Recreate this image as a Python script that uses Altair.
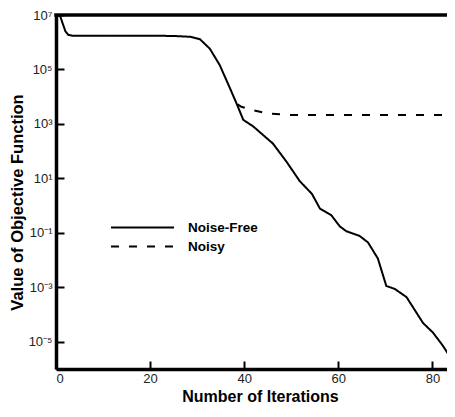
import altair as alt
import pandas as pd

# ---- data ----
nf_iter = [0.8, 1.5, 2.0, 2.6, 3.5, 10, 20, 25, 28.5, 30.6, 32.7, 34.8, 36.9, 38.4, 39.8,
           41.9, 46.1, 49.0, 51.8, 54.4, 56.1, 58.5, 60.3, 61.7, 64.5, 66.3, 68.4, 70.2,
           72.0, 74.5, 78.0, 80.1, 82.2, 84.4]
nf_log = [7.0, 6.65, 6.40, 6.27, 6.24, 6.24, 6.24, 6.23, 6.20, 6.11, 5.76, 5.16, 4.34, 3.74, 3.15,
          2.91, 2.28, 1.61, 0.90, 0.43, -0.11, -0.35, -0.76, -0.94, -1.11, -1.35, -1.94, -2.95,
          -3.06, -3.36, -4.31, -4.66, -5.14, -5.73]

noisy_iter = [38.6, 39.4, 41.5, 44.7, 49.7, 55, 65, 75, 84.7]
noisy_log = [3.72, 3.63, 3.52, 3.39, 3.33, 3.33, 3.33, 3.33, 3.33]

series_names = ["Noise-Free", "Noisy"]
x_tick_values = [0, 20, 40, 60, 80]
y_tick_exps = [-5, -3, -1, 1, 3, 5, 7]
y_tick_labels = ["10\u207b\u2075", "10\u207b\u00b3", "10\u207b\u00b9", "10\u00b9",
                 "10\u00b3", "10\u2075", "10\u2077"]

rows = []
for xi, li in zip(nf_iter, nf_log):
    rows.append({"iter": xi, "value": 10 ** li, "series": series_names[0]})
for xi, li in zip(noisy_iter, noisy_log):
    rows.append({"iter": xi, "value": 10 ** li, "series": series_names[1]})
df = pd.DataFrame(rows)

y_tick_values = [10.0 ** e for e in y_tick_exps]
expr = "'" + y_tick_labels[-1] + "'"
for e, lab in reversed(list(zip(y_tick_exps[:-1], y_tick_labels[:-1]))):
    expr = f"datum.value < {10.0 ** (e + 1)} ? '{lab}' : ({expr})"

W, H = 399, 354
FONT = "Liberation Sans"
TICK = 8
FRAME = 3.5

xscale = alt.Scale(domain=[0, 84.8], nice=False, zero=False)
yscale = alt.Scale(type="log", domain=[1e-6, 1e7], nice=False)

legend = alt.Legend(
    orient="none", legendX=54, legendY=204, title=None,
    symbolType="stroke", symbolSize=3969, symbolStrokeWidth=2,
    symbolStrokeColor="black", clipHeight=17,
    labelFont=FONT, labelFontSize=13.5, labelFontWeight="bold",
    labelColor="black", labelOffset=13, padding=0,
)
dash = alt.StrokeDash("series:N", scale=alt.Scale(domain=series_names, range=[[1, 0], [8, 10]]),
                      legend=legend)

x_axis = alt.Axis(orient="bottom", values=x_tick_values, grid=False,
                  domain=True, domainColor="black", domainWidth=FRAME,
                  ticks=True, tickSize=alt.ExprRef(f"-{TICK}"), tickWidth=2, tickColor="black",
                  labelFont=FONT, labelFontSize=13, labelColor="#222", labelPadding=3 + TICK,
                  title="Number of Iterations", titleFont=FONT, titleFontSize=16,
                  titleFontWeight="bold", titleColor="black",
                  titleX=204, titleY=32, titleBaseline="alphabetic")
y_axis = alt.Axis(orient="left", values=y_tick_values, labelExpr=expr, grid=False,
                  domain=True, domainColor="black", domainWidth=FRAME,
                  ticks=True, tickSize=alt.ExprRef(f"-{TICK}"), tickWidth=2, tickColor="black",
                  labelFont=FONT, labelFontSize=13, labelColor="#222", labelPadding=4 + TICK,
                  title="Value of Objective Function", titleFont=FONT, titleFontSize=16.5,
                  titleFontWeight="bold", titleColor="black",
                  titleX=-38.5, titleY=187, titleBaseline="middle")

lines = alt.Chart(df).mark_line(color="black", strokeWidth=2, clip=True).encode(
    x=alt.X("iter:Q", scale=xscale, axis=x_axis),
    y=alt.Y("value:Q", scale=yscale, axis=y_axis),
    strokeDash=dash,
    order="iter:Q",
)

# thick top edge of the frame
top_edge = alt.Chart(pd.DataFrame({"edge": ["top"]})).mark_rule(
    color="black", strokeWidth=FRAME
).encode(
    y=alt.value(0),
    x=alt.value(-FRAME / 2),
    x2=alt.value(W),
)

chart = alt.layer(lines, top_edge).properties(
    width=W, height=H, autosize="none",
    padding={"left": 48, "top": 7, "right": -8, "bottom": 36},
).configure_view(strokeWidth=0)

chart.save("out.html", embed_options={"renderer": "svg", "actions": False})
